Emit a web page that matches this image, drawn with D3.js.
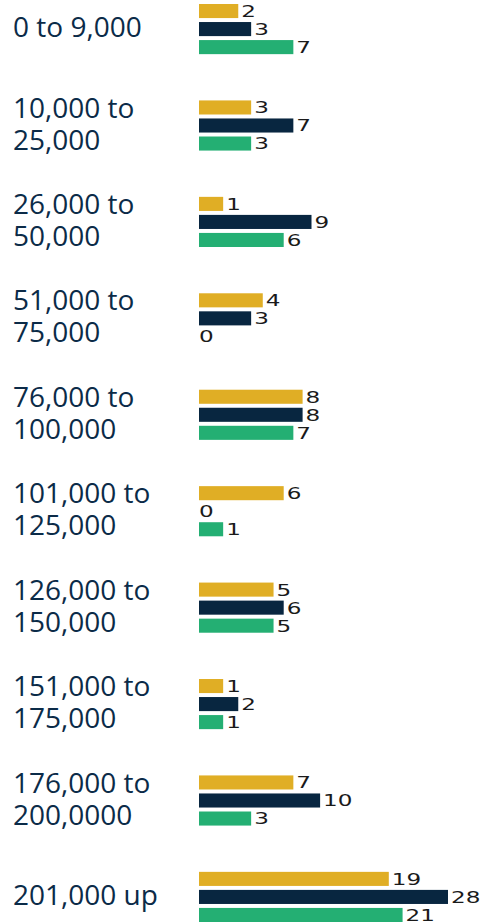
<!DOCTYPE html>
<html lang="en">
    <head>
        <meta charset="utf-8">
        <script src="https://d3js.org/d3.v7.min.js"></script>
        <style>
            body { margin: 0; background: #ffffff; }
        </style>
    </head>
    <body>
        <script>
            // income brackets (line breaks where the label wraps)
            const categories = [
                "0 to 9,000",
                "10,000 to\n25,000",
                "26,000 to\n50,000",
                "51,000 to\n75,000",
                "76,000 to\n100,000",
                "101,000 to\n125,000",
                "126,000 to\n150,000",
                "151,000 to\n175,000",
                "176,000 to\n200,0000",
                "201,000 up"
            ];

            const seriesNames = ["gold", "navy", "green"];
            const goldValues  = [2, 3, 1, 4, 8, 6, 5, 1, 7, 19];
            const navyValues  = [3, 7, 9, 3, 8, 0, 6, 2, 10, 28];
            const greenValues = [7, 3, 6, 0, 7, 1, 5, 1, 3, 21];

            var width = 480;
            var height = 924;

            var colors = {gold: "#E0AE25", navy: "#082640", green: "#24AF73"};

            var rows = categories.map(function(c, i){
                return {cat: c, gold: goldValues[i], navy: navyValues[i], green: greenValues[i]};
            });

            var svg = d3.select("body")
                        .append("svg")
                        .attr("width", width)
                        .attr("height", height);

            var y0 = d3.scaleBand()
                        .domain(categories)
                        .range([4, 922])
                        .paddingInner(0.48)
                        .paddingOuter(0);

            var y1 = d3.scaleBand()
                        .domain(seriesNames)
                        .range([0, y0.bandwidth()])
                        .paddingInner(0.22);

            // bar lengths in the original are not linear, a power scale follows them
            var x = d3.scalePow()
                        .exponent(0.7)
                        .domain([0, 28])
                        .range([199, 448]);

            var groups = svg.selectAll("g.group")
                            .data(rows)
                            .enter()
                            .append("g")
                            .attr("class", "group")
                            .attr("transform", function(d){ return "translate(0," + y0(d.cat) + ")"; });

            // category labels on the left
            groups.append("text")
                .attr("x", 13)
                .attr("font-family", "'Open Sans', sans-serif")
                .attr("font-size", 28)
                .attr("fill", "#0B2B48")
                .each(function(d){
                    var lines = d.cat.split("\n");
                    var mid = y0.bandwidth() / 2 - 2;
                    var t = d3.select(this);
                    lines.forEach(function(line, i){
                        var off = (i - (lines.length - 1) / 2) * 32;
                        t.append("tspan")
                            .attr("x", 13)
                            .attr("y", mid + off)
                            .attr("dy", "0.36em")
                            .text(line);
                    });
                });

            var bars = groups.selectAll("g.bar")
                            .data(function(d){
                                return seriesNames.map(function(s){ return {key: s, value: d[s]}; });
                            })
                            .enter()
                            .append("g")
                            .attr("class", "bar");

            bars.append("rect")
                .attr("x", x(0))
                .attr("y", function(d){ return y1(d.key); })
                .attr("width", function(d){ return x(d.value) - x(0); })
                .attr("height", y1.bandwidth())
                .attr("fill", function(d){ return colors[d.key]; });

            // value labels, the font in the original is very wide
            bars.append("text")
                .attr("transform", function(d){
                    var lx = d.value === 0 ? x(0) : x(d.value) + 3;
                    var ly = y1(d.key) + y1.bandwidth() / 2;
                    return "translate(" + lx + "," + ly + ") scale(1.4,1)";
                })
                .attr("dy", "0.36em")
                .attr("font-family", "'DejaVu Sans', sans-serif")
                .attr("font-size", 16.5)
                .attr("fill", "#1a1a1a")
                .text(function(d){ return d.value; });
        </script>
    </body>
</html>
